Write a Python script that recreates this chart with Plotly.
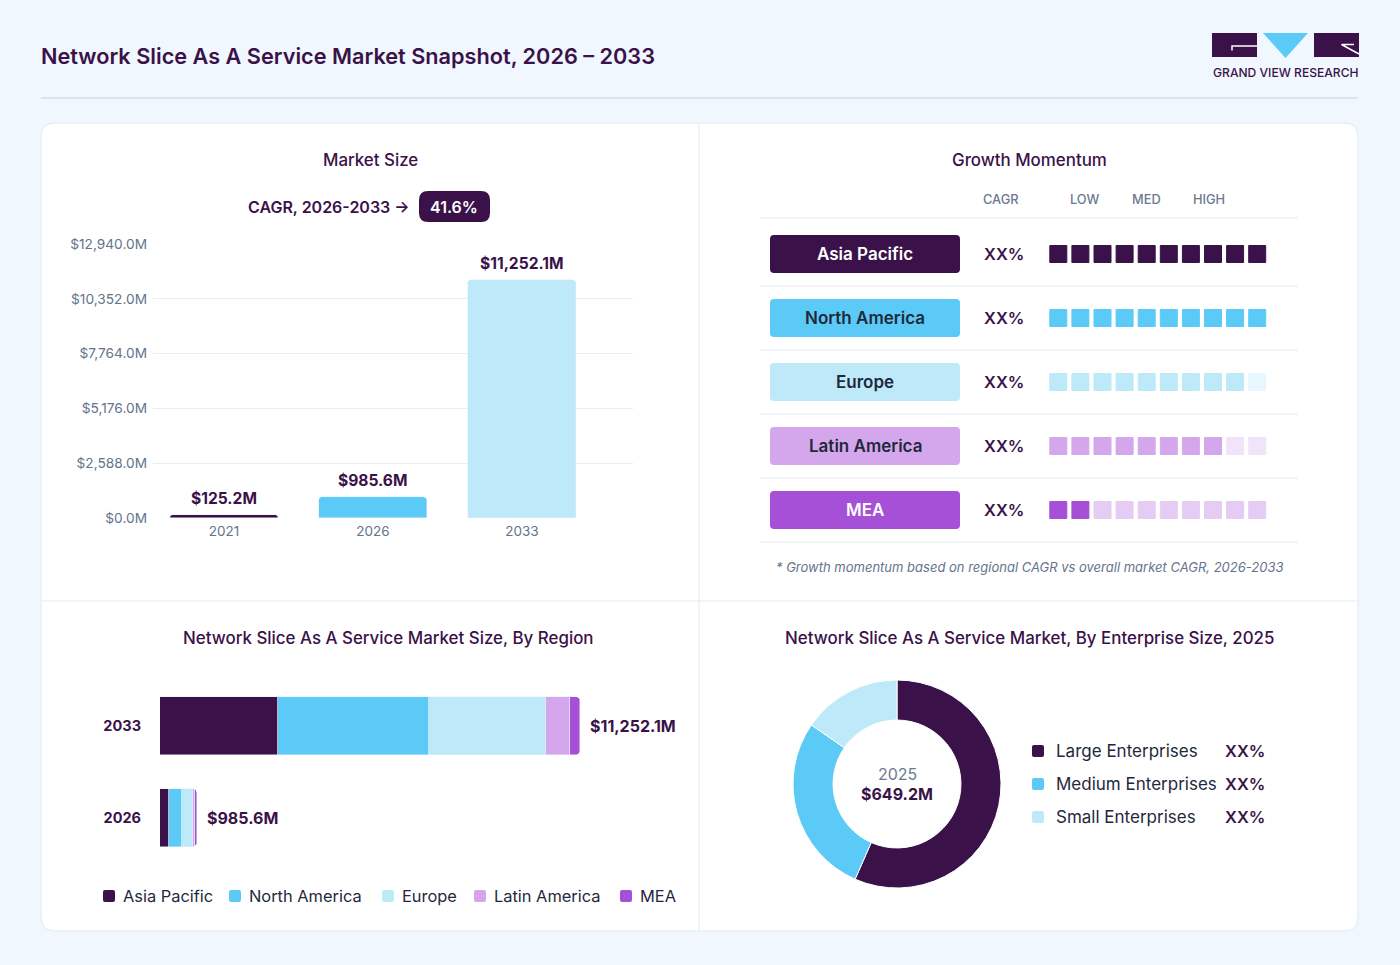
import plotly.graph_objects as go

W, H = 1400, 965
FONT = "Inter"

# ---------------- data ----------------
years = ["2021", "2026", "2033"]
market_size = [125.2, 985.6, 11252.1]
size_ticks = [0, 2588, 5176, 7764, 10352, 12940]
size_labels = ["$0.0M", "$2,588.0M", "$5,176.0M", "$7,764.0M", "$10,352.0M", "$12,940.0M"]
cagr_text = "CAGR, 2026-2033 \u2192"
cagr_value = "41.6%"

regions = ["Asia Pacific", "North America", "Europe", "Latin America", "MEA"]
region_cagr = ["XX%", "XX%", "XX%", "XX%", "XX%"]
momentum_filled = [10, 10, 9, 8, 2]
momentum_steps = 10
momentum_heads = ["CAGR", "LOW", "MED", "HIGH"]

bar_years = ["2026", "2033"]
asia_pacific = [246.0, 3161.0]
north_america = [338.0, 4051.0]
europe = [308.0, 3130.0]
latin_america = [42.0, 634.0]
mea = [51.6, 276.1]
region_totals = [985.6, 11252.1]
total_labels = ["$985.6M", "$11,252.1M"]

enterprise_sizes = ["Large Enterprises", "Medium Enterprises", "Small Enterprises"]
enterprise_share = [56.6, 28.0, 15.4]
enterprise_labels = ["XX%", "XX%", "XX%"]
donut_year = "2025"
donut_total = "$649.2M"

# ---------------- colours ----------------
PURPLE = "#3A1249"
BLUE = "#5CCAF6"
LIGHT = "#BDE9F9"
LILAC = "#D4A7EC"
VIOLET = "#A64FD7"
GRAY = "#64748B"
INK = "#1E293B"
LINE = "#E3E9F1"
region_colors = [PURPLE, BLUE, LIGHT, LILAC, VIOLET]
faded_colors = ["#D9CEE0", "#D6F1FC", "#E8F6FD", "#F1E4F9", "#E5CCF4"]
label_text_colors = ["white", INK, INK, INK, "white"]


def fx(x):
    return x / W


def fy(y):
    return 1 - y / H


def rounded(x0, y0, x1, y1, r):
    # rounded box given in pixels, returned as a paper path
    pts = [
        ("M", x0 + r, y0), ("L", x1 - r, y0), ("Q", x1, y0, x1, y0 + r),
        ("L", x1, y1 - r), ("Q", x1, y1, x1 - r, y1), ("L", x0 + r, y1),
        ("Q", x0, y1, x0, y1 - r), ("L", x0, y0 + r), ("Q", x0, y0, x0 + r, y0),
    ]
    out = []
    for p in pts:
        cmd, nums = p[0], p[1:]
        xy = []
        for k in range(0, len(nums), 2):
            xy.append(f"{fx(nums[k]):.5f},{fy(nums[k + 1]):.5f}")
        out.append(cmd + " ".join(xy))
    return " ".join(out) + " Z"


shapes = []
annotations = []


def box(x0, y0, x1, y1, r, fill, line=None, layer="below"):
    shapes.append(dict(type="path", path=rounded(x0, y0, x1, y1, r), xref="paper", yref="paper",
                       fillcolor=fill, line=dict(color=line or fill, width=1 if line else 0), layer=layer))


def hline(x0, x1, y, color=LINE, width=1):
    shapes.append(dict(type="line", xref="paper", yref="paper", x0=fx(x0), x1=fx(x1), y0=fy(y), y1=fy(y),
                       line=dict(color=color, width=width), layer="below"))


def vline(x, y0, y1, color=LINE, width=1):
    shapes.append(dict(type="line", xref="paper", yref="paper", x0=fx(x), x1=fx(x), y0=fy(y0), y1=fy(y1),
                       line=dict(color=color, width=width), layer="below"))


def text(x, y, s, size, color, weight=400, xanchor="center", style="normal"):
    annotations.append(dict(xref="paper", yref="paper", x=fx(x), y=fy(y), text=s, showarrow=False,
                            xanchor=xanchor, yanchor="middle",
                            font=dict(family=FONT, size=size, color=color, weight=weight, style=style)))


# ---------------- frame ----------------
hline(41, 1358, 98, "#DCE4EE", 2)
box(41, 123, 1358, 931, 14, "white", LINE)
vline(699, 124, 930)
hline(42, 1357, 601)

text(39, 56, "Network Slice As A Service Market Snapshot, 2026 \u2013 2033", 21.7, PURPLE, 600, "left")

# logo
box(1212, 33, 1257, 57, 0, PURPLE, layer="above")
box(1314, 33, 1359, 57, 0, PURPLE, layer="above")
shapes.append(dict(type="path", xref="paper", yref="paper", fillcolor=BLUE, line=dict(width=0),
                   path=f"M{fx(1263)},{fy(33)} L{fx(1308)},{fy(33)} L{fx(1285.5)},{fy(58)} Z"))
shapes.append(dict(type="path", xref="paper", yref="paper", line=dict(color="white", width=1.5),
                   path=f"M{fx(1257)},{fy(46)} L{fx(1232)},{fy(46)} L{fx(1232)},{fy(50.5)}"))
shapes.append(dict(type="path", xref="paper", yref="paper", line=dict(color="white", width=1.5),
                   path=f"M{fx(1354)},{fy(44.5)} L{fx(1341.5)},{fy(44.5)} L{fx(1359)},{fy(54)}"))
text(1286, 73, "GRAND VIEW RESEARCH", 12.1, PURPLE, 500)

# ---------------- market size ----------------
text(370, 160, "Market Size", 16.9, PURPLE, 500)
text(412, 207, cagr_text, 16, PURPLE, 600, "right")
box(419, 191, 490, 222, 9, PURPLE, layer="above")
text(454.5, 206.5, cagr_value, 16, "white", 600)

year_pos = list(range(len(years)))
fig = go.Figure()
fig.add_trace(go.Bar(x=year_pos, y=market_size, marker_color=[PURPLE, BLUE, LIGHT], width=0.725,
                     xaxis="x", yaxis="y", showlegend=False, hovertext=years, hoverinfo="text+y"))
for xp, v in zip(year_pos, market_size):
    annotations.append(dict(xref="x", yref="y", x=xp, y=v, text=f"${v:,.1f}M", showarrow=False,
                            xanchor="center", yanchor="bottom", yshift=5,
                            font=dict(family=FONT, size=15.6, color=PURPLE, weight=700)))

# ---------------- growth momentum ----------------
text(1029, 160, "Growth Momentum", 16.9, PURPLE, 500)
for head, hx in zip(momentum_heads, [1001, 1085, 1146, 1209]):
    text(hx, 199, head, 12.8, "#6B7A90", 500)
for yl in [218, 286, 350, 414, 478, 542]:
    hline(760, 1298, yl)

sq_x, sq_y, sq_c = [], [], []
for r, name in enumerate(regions):
    cy = 254 + 64 * r
    box(770, cy - 19, 960, cy + 19, 4, region_colors[r], layer="above")
    text(865, cy, name, 17, label_text_colors[r], 600)
    text(1004, cy, region_cagr[r], 16.5, PURPLE, 600)
    for i in range(momentum_steps):
        sq_x.append(i)
        sq_y.append(r)
        sq_c.append(region_colors[r] if i < momentum_filled[r] else faded_colors[r])

fig.add_trace(go.Scatter(x=sq_x, y=sq_y, mode="markers", xaxis="x3", yaxis="y3", showlegend=False,
                         marker=dict(symbol="square", size=17, color=sq_c, line=dict(width=1, color=sq_c)),
                         hoverinfo="skip"))
text(1029, 567, "* Growth momentum based on regional CAGR vs overall market CAGR, 2026-2033", 13, GRAY, 400,
     style="italic")

# ---------------- by region ----------------
text(388, 638, "Network Slice As A Service Market Size, By Region", 16.9, PURPLE, 500)
bar_pos = list(range(len(bar_years)))
for name, vals, col in zip(regions, [asia_pacific, north_america, europe, latin_america, mea], region_colors):
    fig.add_trace(go.Bar(y=bar_pos, x=vals, orientation="h", name=name, marker_color=col, width=0.62,
                         xaxis="x2", yaxis="y2", showlegend=False, hovertext=bar_years,
                         hoverinfo="name+x+text"))
for yp, tot, lab in zip(bar_pos, region_totals, total_labels):
    annotations.append(dict(xref="x2", yref="y2", x=tot, y=yp, text=lab, showarrow=False,
                            xanchor="left", yanchor="middle", xshift=8,
                            font=dict(family=FONT, size=16, color=PURPLE, weight=700)))

legend_x = [103, 229, 382, 474, 620]
for name, col, lx in zip(regions, region_colors, legend_x):
    box(lx, 890, lx + 12, 902, 2, col, layer="above")
    text(lx + 18, 896, name, 16.4, INK, 400, "left")

# ---------------- by enterprise size ----------------
text(1029, 638, "Network Slice As A Service Market, By Enterprise Size, 2025", 16.9, PURPLE, 500)
fig.add_trace(go.Pie(labels=enterprise_sizes, values=enterprise_share, hole=0.615, sort=False,
                     direction="clockwise", rotation=0, textinfo="none", showlegend=False,
                     marker=dict(colors=[PURPLE, BLUE, LIGHT], line=dict(color="white", width=1)),
                     domain=dict(x=[fx(793), fx(1001)], y=[fy(888), fy(680)])))
text(897, 774, donut_year, 16, "#6B7A90", 400)
text(897, 794, donut_total, 16, PURPLE, 700)
for k, (name, lab, col) in enumerate(zip(enterprise_sizes, enterprise_labels, [PURPLE, BLUE, LIGHT])):
    cy = 751 + 33 * k
    box(1032, cy - 6, 1044, cy + 6, 2, col, layer="above")
    text(1054, cy, name, 17, INK, 400, "left")
    text(1267, cy, lab, 16.5, PURPLE, 600, "right")

x2_max = region_totals[1] * 520 / 420

fig.update_layout(
    width=W, height=H, margin=dict(l=0, r=0, t=0, b=0, pad=0, autoexpand=False),
    paper_bgcolor="#F0F7FE", plot_bgcolor="rgba(0,0,0,0)",
    barmode="stack", barcornerradius=4, bargap=0,
    font=dict(family=FONT, color=PURPLE),
    shapes=shapes, annotations=annotations,
    xaxis=dict(domain=[fx(153), fx(633)], range=[-0.4765, 2.745], anchor="y", automargin=False,
               tickvals=year_pos, ticktext=years,
               showgrid=False, zeroline=False, showline=False, ticks="", ticklabelstandoff=3,
               tickfont=dict(family=FONT, size=13.5, color=GRAY)),
    yaxis=dict(domain=[fy(518), fy(244)], range=[0, 12940], anchor="x", tickvals=size_ticks,
               automargin=False,
               ticktext=size_labels, gridcolor="#E8EDF3", gridwidth=1, zeroline=False, showline=False,
               ticks="", ticklabelstandoff=5, tickfont=dict(family=FONT, size=13.7, color=GRAY)),
    xaxis2=dict(domain=[fx(160), fx(680)], range=[0, x2_max], anchor="y2", visible=False,
                automargin=False),
    yaxis2=dict(domain=[fy(864), fy(680)], range=[-0.5, 1.5], anchor="x2", automargin=False,
                tickvals=bar_pos, ticktext=bar_years, showgrid=False,
                zeroline=False, showline=False, ticks="", ticklabelstandoff=18,
                tickfont=dict(family=FONT, size=14.5, color=PURPLE, weight=700)),
    xaxis3=dict(domain=[fx(1047.25), fx(1268.25)], range=[-0.5, 9.5], anchor="y3", visible=False,
                automargin=False),
    yaxis3=dict(domain=[fy(542), fy(222)], range=[4.5, -0.5], anchor="x3", visible=False,
                automargin=False),
)

pin = ("var d=document.getElementById('{plot_id}');"
       "d.style.position='fixed';d.style.left='0px';d.style.top='0px';"
       "document.body.style.margin='0';document.body.style.overflow='hidden';")
fig.write_html("out.html", config={"displayModeBar": False}, post_script=pin)
